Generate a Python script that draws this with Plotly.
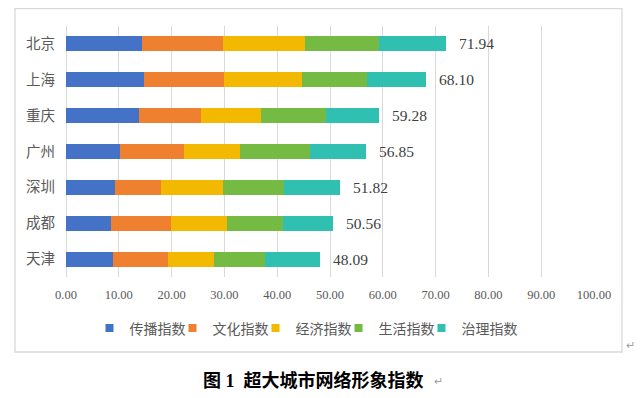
import plotly.graph_objects as go

cities = ["北京", "上海", "重庆", "广州", "深圳", "成都", "天津"]
series_names = ["传播指数", "文化指数", "经济指数", "生活指数", "治理指数"]
chuanbo = [14.40, 14.70, 13.80, 10.20, 9.35, 8.50, 8.96]
wenhua = [15.30, 15.30, 11.80, 12.10, 8.65, 11.45, 10.44]
jingji = [15.60, 14.70, 11.30, 10.70, 11.70, 10.55, 8.60]
shenghuo = [14.00, 12.30, 12.30, 13.15, 11.60, 10.65, 9.70]
zhili = [12.64, 11.10, 10.08, 10.70, 10.52, 9.41, 10.39]
totals = [71.94, 68.10, 59.28, 56.85, 51.82, 50.56, 48.09]
x_ticks = [0, 10, 20, 30, 40, 50, 60, 70, 80, 90, 100]

colors = ["#4472C6", "#EF8030", "#F2B900", "#75BA42", "#2FC0B2"]
series = [chuanbo, wenhua, jingji, shenghuo, zhili]

serif = "Liberation Serif, Noto Sans CJK SC, serif"

fig = go.Figure()
for name, vals, c in zip(series_names, series, colors):
    fig.add_trace(go.Bar(
        y=cities, x=vals, name=name, orientation="h", showlegend=False,
        marker=dict(color=c, line=dict(width=0)), width=0.42,
    ))

# legend entries (small square markers like the reference)
for name, c in zip(series_names, colors):
    fig.add_trace(go.Scatter(
        x=[None], y=[None], mode="markers", name=name,
        marker=dict(symbol="square", size=8, color=c), showlegend=True,
    ))
# empty spacer entry so the last legend label is not clipped
fig.add_trace(go.Scatter(x=[None], y=[None], mode="markers", name="",
                         marker=dict(size=1, color="rgba(0,0,0,0)"), showlegend=True))

for city, t in zip(cities, totals):
    fig.add_annotation(x=t, y=city, xref="x", yref="y", text=f"{t:.2f}",
                       showarrow=False, xanchor="left", yanchor="middle", xshift=11,
                       font=dict(family=serif, size=15.5, color="#404040"))

# page body has an 8px margin, so the figure is placed 8px right/down
fig.update_layout(
    width=635, height=390,
    margin=dict(l=58, r=49, t=18, b=121, autoexpand=False),
    paper_bgcolor="white", plot_bgcolor="white",
    barmode="stack",
    font=dict(family=serif, color="#595959"),
    xaxis=dict(range=[0, 100], tickvals=x_ticks, tickformat=".2f", automargin=False,
               showgrid=True, gridcolor="#D9D9D9", gridwidth=1,
               zeroline=True, zerolinecolor="#D9D9D9", zerolinewidth=1,
               showline=False, ticks="", tickfont=dict(size=12.5, color="#595959", family=serif),
               ticklabelstandoff=8),
    yaxis=dict(categoryorder="array", categoryarray=cities, autorange=False,
               range=[6.5, -0.5], showgrid=False, showline=False, ticks="", automargin=False,
               tickfont=dict(size=14.5, color="#595959", family=serif),
               ticklabelstandoff=10),
    legend=dict(orientation="h", x=0.0445, xanchor="left", y=-0.205, yanchor="middle",
                font=dict(size=14, color="#595959", family=serif),
                entrywidth=38, entrywidthmode="pixels",
                itemwidth=30, tracegroupgap=0, traceorder="normal"),
    showlegend=True,
)

fig.add_shape(type="rect", xref="paper", yref="paper",
              x0=-0.0966, x1=1.053, y0=-0.2988, y1=1.0697,
              line=dict(color="#D9D9D9", width=1.3), fillcolor="rgba(0,0,0,0)", layer="below")

fig.add_annotation(xref="paper", yref="paper", x=0.4685, y=-0.414, showarrow=False,
                   text="<b>图 1  超大城市网络形象指数</b>",
                   font=dict(family=serif, size=18, color="#000000"),
                   xanchor="center", yanchor="middle")
fig.add_annotation(xref="paper", yref="paper", x=0.693, y=-0.414, showarrow=False,
                   text="↵", font=dict(size=11, color="#A0A0A0"),
                   xanchor="left", yanchor="middle")
fig.add_annotation(xref="paper", yref="paper", x=1.056, y=-0.271, showarrow=False,
                   text="↵", font=dict(size=11, color="#A0A0A0"),
                   xanchor="left", yanchor="middle")

fig.write_html("out.html")
